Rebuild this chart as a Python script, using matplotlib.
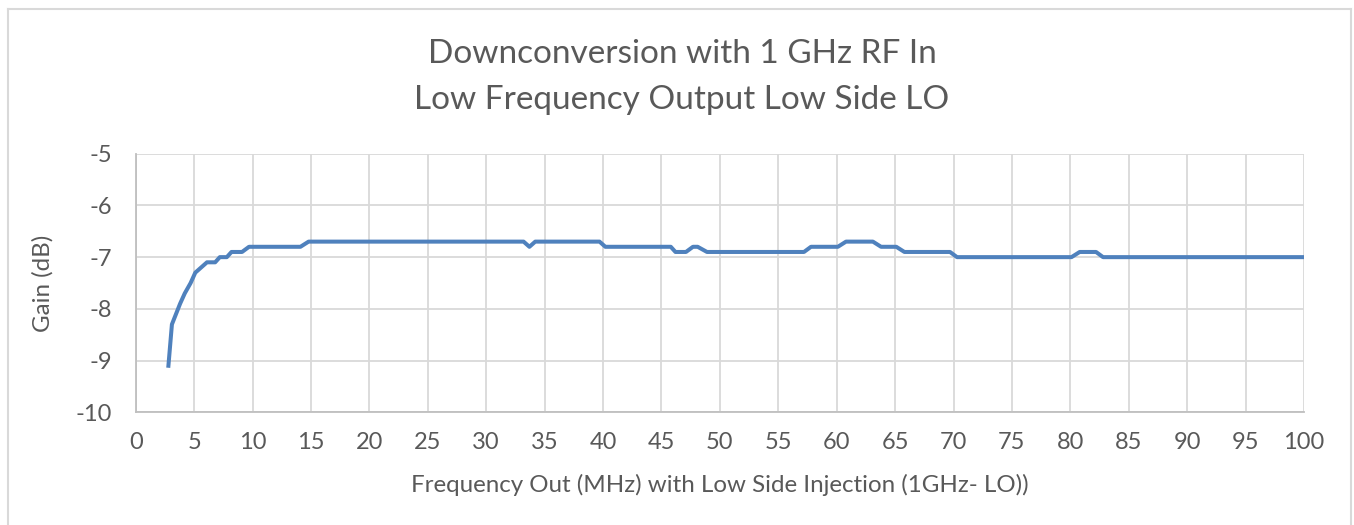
import matplotlib
matplotlib.use('Agg')
import matplotlib.pyplot as plt
from matplotlib.lines import Line2D

# 판독한 데이터 (MHz, dB)
freq_mhz = [2.8, 3.1, 3.8, 4.2, 4.7, 5.1, 5.6, 6.1, 6.8, 7.2, 7.8, 8.2, 9.1, 9.7,
            14.1, 14.8, 33.2, 33.7, 34.2, 39.7, 40.2, 45.8, 46.2, 47.1, 47.7, 48.1,
            48.9, 57.2, 57.8, 60.1, 60.8, 63.1, 63.8, 65.1, 65.8, 69.7, 70.3, 80.1,
            80.8, 82.2, 82.8, 100]
gain_db = [-9.1, -8.3, -7.9, -7.7, -7.5, -7.3, -7.2, -7.1, -7.1, -7.0, -7.0, -6.9, -6.9, -6.8,
           -6.8, -6.7, -6.7, -6.8, -6.7, -6.7, -6.8, -6.8, -6.9, -6.9, -6.8, -6.8,
           -6.9, -6.9, -6.8, -6.8, -6.7, -6.7, -6.8, -6.8, -6.9, -6.9, -7.0, -7.0,
           -6.9, -6.9, -7.0, -7.0]
x_ticks = list(range(0, 101, 5))
y_ticks = [-10, -9, -8, -7, -6, -5]

title_lines = ['Downconversion with 1 GHz RF In', 'Low Frequency Output Low Side LO']
x_label = 'Frequency Out (MHz) with Low Side Injection (1GHz- LO))'
y_label = 'Gain (dB)'

plt.rcParams['font.family'] = ['Lato', 'DejaVu Sans']
plt.rcParams['axes.unicode_minus'] = False          # 엑셀처럼 하이픈 마이너스
txt = '#595959'
W, H = 1354, 525

fig = plt.figure(figsize=(W / 100, H / 100), dpi=100)
ax = fig.add_axes([135.7 / W, 1 - 412.3 / H, (1304 - 135.7) / W, (412.3 - 153.7) / H])

ax.plot(freq_mhz, gain_db, color='#4f81bd', lw=2.9, solid_joinstyle='round', zorder=3)

ax.set_xlim(0, 100)
ax.set_ylim(-10, -5)
ax.set_xticks(x_ticks)
ax.set_yticks(y_ticks)
ax.grid(True, color='#d9d9d9', lw=1.3)
ax.set_axisbelow(True)
for s in ['top', 'right']:
    ax.spines[s].set_visible(False)
for s in ['left', 'bottom']:
    ax.spines[s].set_color('#bfbfbf')
    ax.spines[s].set_linewidth(1.3)
ax.tick_params(length=0, labelsize=17, labelcolor=txt)
ax.tick_params(axis='x', pad=14)
ax.tick_params(axis='y', pad=17)

ax.set_xlabel(x_label, fontsize=17.4, color=txt, labelpad=15)
ax.set_ylabel(y_label, fontsize=17.4, color=txt, labelpad=16)

fig.text(682 / W, 1 - 54 / H, title_lines[0], ha='center', va='center', fontsize=24, color=txt)
fig.text(682 / W, 1 - 100 / H, title_lines[1], ha='center', va='center', fontsize=24, color=txt)

# 차트 바깥 테두리
bx0, bx1, by0 = 8 / W, 1351 / W, 1 - 9 / H
for xs, ys in [([bx0, bx0], [-0.02, by0]), ([bx0, bx1], [by0, by0]), ([bx1, bx1], [by0, -0.02])]:
    fig.add_artist(Line2D(xs, ys, color='#d9d9d9', lw=1.5, transform=fig.transFigure))

fig.savefig('out.png', dpi=100)
